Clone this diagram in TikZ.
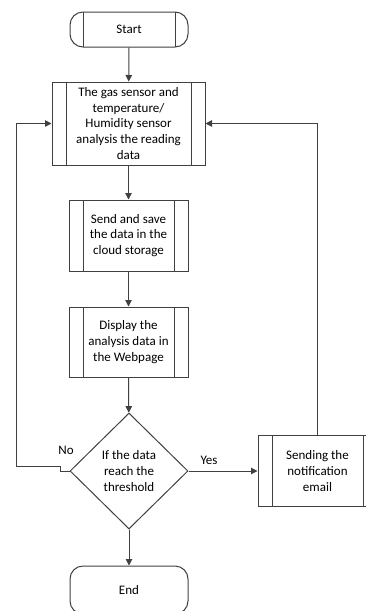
\documentclass[tikz,border=0pt]{standalone}
\usepackage{fontspec}
\setmainfont{Carlito}
\usepackage{tikz}
\usetikzlibrary{shapes.geometric,arrows.meta}

\definecolor{linecol}{RGB}{64,64,64}

\begin{document}
\begin{tikzpicture}[x=1pt, y=-1pt,
    every node/.style={font=\fontsize{13}{15.6}\selectfont, inner sep=0pt},
    sidebars/.style={path picture={
        \draw[linecol, line width=1pt]
            ([xshift=#1]path picture bounding box.north west) -- ([xshift=#1]path picture bounding box.south west)
            ([xshift=-#1]path picture bounding box.north east) -- ([xshift=-#1]path picture bounding box.south east);}},
    predef/.style={draw=linecol, line width=1pt, rectangle, align=center, sidebars=14pt},
    terminal/.style={draw=linecol, line width=1pt, rectangle, rounded corners=13pt, align=center},
    decision/.style={draw=linecol, line width=1pt, diamond, align=center, minimum width=118pt, minimum height=116pt},
    flow/.style={draw=linecol, line width=1pt, -{Triangle[length=6.5pt,width=6.5pt]}}]

    \useasboundingbox (0,0) rectangle (366,611);
    \clip (0,0) rectangle (366,611);

    % Start
    \node[terminal, sidebars=13pt, minimum width=118pt, minimum height=35pt] (start) at (129,29.5) {Start};

    % Processing steps
    \node[predef, minimum width=153pt, minimum height=83pt] (sensor) at (128.5,123.5)
        {The gas sensor and\\temperature/\\Humidity sensor\\analysis the reading\\data};
    \node[predef, minimum width=119pt, minimum height=71pt] (cloud) at (128.5,235.5)
        {Send and save\\the data in the\\cloud storage};
    \node[predef, minimum width=119pt, minimum height=70pt] (webpage) at (128.5,342)
        {Display the\\analysis data in\\the Webpage};

    % Threshold check
    \node[decision] (check) at (129,471) {If the data\\reach the\\threshold};

    % Notification
    \node[predef, minimum width=119pt, minimum height=71pt] (email) at (317.5,471)
        {Sending the\\notification\\email};

    % End
    \node[terminal, minimum width=118pt, minimum height=48pt] (end) at (129,590) {End};

    % Labels
    \node (nolbl) at (66,450) {No};
    \node (yeslbl) at (209,460) {Yes};

    % Arrows
    \draw[flow] (start) -- (sensor);
    \draw[flow] (sensor) -- (cloud);
    \draw[flow] (cloud) -- (webpage);
    \draw[flow] (webpage) -- (check);
    \draw[flow] (check) -- (end);
    \draw[flow] (check.east) -- (email.west);
    \draw[flow] (email.north) |- (sensor.east);
    \coordinate (noturn) at (16,466);
    \draw[flow] (check.west) -- ++(-9,0) -- ++(0,-5) -- (noturn) |- (sensor.west);
\end{tikzpicture}
\end{document}
